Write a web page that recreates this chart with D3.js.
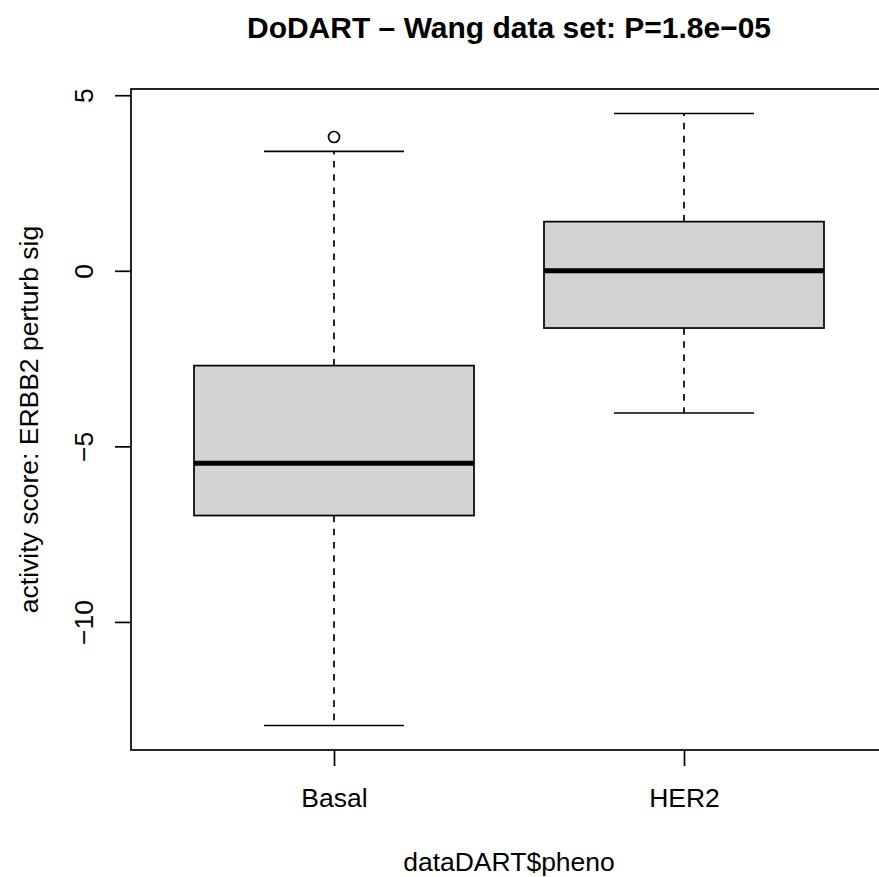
<!DOCTYPE html>
<html>
<head>
  <title>DoDART boxplot</title>
  <meta charset="utf-8">
  <script src="https://cdn.jsdelivr.net/npm/d3@7"></script>
  <style>
    body { margin: 0; background: #fff; }
    text { font-family: "Liberation Sans", Arial, sans-serif; fill: #000; }
  </style>
</head>
<body>
<script>

// groups on the x axis
var categories = ["Basal", "HER2"];

// box statistics per group
var lowWhisker  = [-12.95, -4.05];
var lowerQuart  = [-6.97, -1.63];
var medians     = [-5.48, 0.0];
var upperQuart  = [-2.70, 1.40];
var highWhisker = [3.40, 4.48];
var outliers    = [[3.81], []];

// y tick values
var yTicks = [-10, -5, 0, 5];

var width = 879,
    height = 877;

// plot region (right edge is cut off in the original)
var plotL = 131, plotR = 887, plotT = 89, plotB = 750;

var svg = d3.select("body").append("svg")
    .attr("width", width)
    .attr("height", height);

// R style axis ranges: extend data range by 4%
var allVals = d3.merge([lowWhisker, highWhisker, d3.merge(outliers)]);
var lo = d3.min(allVals), hi = d3.max(allVals), ext = (hi - lo) * 0.04;

var y = d3.scaleLinear()
    .domain([lo - ext, hi + ext])
    .range([plotB, plotT]);

var x = d3.scaleLinear()
    .domain([0.5 - 0.08, categories.length + 0.5 + 0.08])
    .range([plotL, plotR]);

var boxW = x(1.4) - x(1),      // half of boxwex 0.8
    capW = boxW / 2;

var lw = 1.7;

var boxes = svg.selectAll("g.box")
    .data(categories)
  .enter().append("g")
    .attr("class", "box");

// dashed whiskers
boxes.append("line")
    .attr("x1", function(d, i) { return x(i + 1); })
    .attr("x2", function(d, i) { return x(i + 1); })
    .attr("y1", function(d, i) { return y(upperQuart[i]); })
    .attr("y2", function(d, i) { return y(highWhisker[i]); })
    .attr("stroke", "#000").attr("stroke-width", lw)
    .attr("stroke-dasharray", "6.6,6.6");

boxes.append("line")
    .attr("x1", function(d, i) { return x(i + 1); })
    .attr("x2", function(d, i) { return x(i + 1); })
    .attr("y1", function(d, i) { return y(lowerQuart[i]); })
    .attr("y2", function(d, i) { return y(lowWhisker[i]); })
    .attr("stroke", "#000").attr("stroke-width", lw)
    .attr("stroke-dasharray", "6.6,6.6");

// staples
[highWhisker, lowWhisker].forEach(function(arr) {
  boxes.append("line")
      .attr("x1", function(d, i) { return x(i + 1) - capW; })
      .attr("x2", function(d, i) { return x(i + 1) + capW; })
      .attr("y1", function(d, i) { return y(arr[i]); })
      .attr("y2", function(d, i) { return y(arr[i]); })
      .attr("stroke", "#000").attr("stroke-width", lw);
});

// the box
boxes.append("rect")
    .attr("x", function(d, i) { return x(i + 1) - boxW; })
    .attr("y", function(d, i) { return y(upperQuart[i]); })
    .attr("width", boxW * 2)
    .attr("height", function(d, i) { return y(lowerQuart[i]) - y(upperQuart[i]); })
    .attr("fill", "#d3d3d3")
    .attr("stroke", "#000").attr("stroke-width", lw);

// median
boxes.append("line")
    .attr("x1", function(d, i) { return x(i + 1) - boxW; })
    .attr("x2", function(d, i) { return x(i + 1) + boxW; })
    .attr("y1", function(d, i) { return y(medians[i]); })
    .attr("y2", function(d, i) { return y(medians[i]); })
    .attr("stroke", "#000").attr("stroke-width", 5);

// outliers
boxes.each(function(d, i) {
  d3.select(this).selectAll("circle")
      .data(outliers[i])
    .enter().append("circle")
      .attr("cx", x(i + 1))
      .attr("cy", function(v) { return y(v); })
      .attr("r", 5.5)
      .attr("fill", "none")
      .attr("stroke", "#000").attr("stroke-width", lw);
});

// frame
svg.append("rect")
    .attr("x", plotL).attr("y", plotT)
    .attr("width", plotR - plotL).attr("height", plotB - plotT)
    .attr("fill", "none")
    .attr("stroke", "#000").attr("stroke-width", lw);

// y axis
var yAxis = d3.axisLeft(y)
    .tickValues(yTicks)
    .tickSize(16)
    .tickFormat(function(d) { return d < 0 ? "\u2212" + Math.abs(d) : d; });

var gy = svg.append("g")
    .attr("transform", "translate(" + plotL + ",0)")
    .call(yAxis);
gy.select(".domain").remove();
gy.selectAll(".tick line").attr("stroke", "#000").attr("stroke-width", lw);
gy.selectAll(".tick text")
    .attr("x", null).attr("dy", null)
    .attr("transform", "translate(-38,0) rotate(-90)")
    .attr("text-anchor", "middle")
    .style("font-size", "26.5px")
    .style("font-family", "Liberation Sans, Arial, sans-serif")
    .attr("fill", "#000");

// x axis
var xAxis = d3.axisBottom(x)
    .tickValues(d3.range(1, categories.length + 1))
    .tickSize(16)
    .tickFormat(function(d) { return categories[d - 1]; });

var gx = svg.append("g")
    .attr("transform", "translate(0," + plotB + ")")
    .call(xAxis);
gx.select(".domain").remove();
gx.selectAll(".tick line").attr("stroke", "#000").attr("stroke-width", lw);
gx.selectAll(".tick text")
    .attr("y", 57).attr("dy", null)
    .style("font-size", "26.5px")
    .style("font-family", "Liberation Sans, Arial, sans-serif")
    .attr("fill", "#000");

// labels
var midX = (plotL + plotR) / 2;

svg.append("text")
    .attr("x", midX).attr("y", 38)
    .attr("text-anchor", "middle")
    .style("font-size", "30px")
    .style("font-weight", "bold")
    .text("DoDART \u2013 Wang data set: P=1.8e\u221205");

svg.append("text")
    .attr("x", midX).attr("y", 871)
    .attr("text-anchor", "middle")
    .style("font-size", "26.5px")
    .text("dataDART$pheno");

svg.append("text")
    .attr("transform", "translate(38," + ((plotT + plotB) / 2) + ") rotate(-90)")
    .attr("text-anchor", "middle")
    .style("font-size", "26.5px")
    .text("activity score: ERBB2 perturb sig");

</script>
</body>
</html>
